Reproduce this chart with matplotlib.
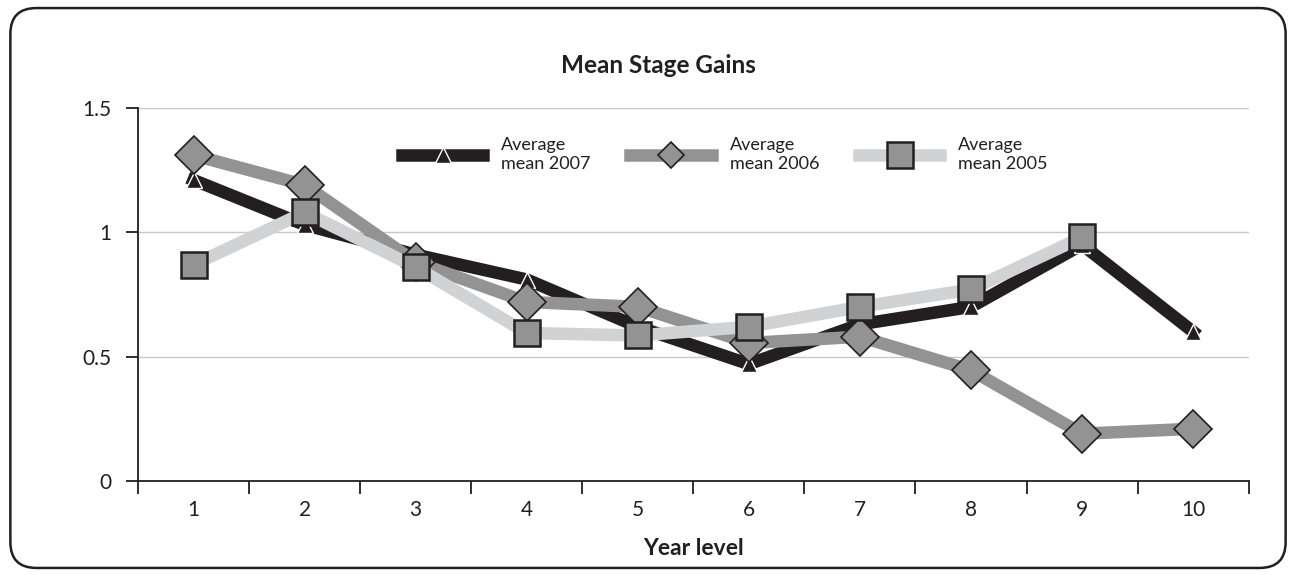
import numpy as np
from matplotlib import pyplot as plt
from matplotlib.patches import FancyBboxPatch

# year levels and the three yearly averages
years = [1, 2, 3, 4, 5, 6, 7, 8, 9, 10]
mean_2007 = [1.21, 1.03, 0.91, 0.81, 0.62, 0.47, 0.63, 0.70, 0.95, 0.60]
mean_2006 = [1.31, 1.19, 0.88, 0.72, 0.70, 0.555, 0.58, 0.445, 0.19, 0.21]
mean_2005 = [0.87, 1.08, 0.86, 0.595, 0.585, 0.62, 0.70, 0.77, 0.98]

plt.rcParams['font.family'] = ['Lato', 'DejaVu Sans']
dark = "#231f20"

fig = plt.figure(figsize=(12.96, 5.76), dpi=100)
ax = fig.add_axes([0.1065, 0.165, 0.857, 0.6476])

# rounded frame round the whole chart
frame = FancyBboxPatch((0.008, 0.014), 0.984, 0.972, boxstyle="round,pad=0,rounding_size=0.02",
                       transform=fig.transFigure, fill=False, edgecolor=dark, linewidth=1.8,
                       mutation_aspect=1296 / 576)
fig.patches.append(frame)

ax.plot(years, mean_2007, color=dark, linewidth=9, marker="^", markersize=11,
        markerfacecolor=dark, markeredgecolor="white", markeredgewidth=1,
        label="Average\nmean 2007", zorder=3)
ax.plot(years, mean_2006, color="#939393", linewidth=9, marker="D", markersize=19,
        markerfacecolor="#939393", markeredgecolor=dark, markeredgewidth=1.2,
        label="Average\nmean 2006", zorder=4)
ax.plot(years[:len(mean_2005)], mean_2005, color="#d1d2d4", linewidth=9, marker="s", markersize=19,
        markerfacecolor="#939393", markeredgecolor=dark, markeredgewidth=1.8,
        label="Average\nmean 2005", zorder=5)

ax.set_xlim(0.5, 10.5)
ax.set_ylim(0, 1.5)
ax.set_yticks([0, 0.5, 1, 1.5])
ax.set_yticklabels(["0", "0.5", "1", "1.5"])
ax.set_xticks(years)
ax.set_xticks(np.arange(0.5, 11, 1), minor=True)
ax.tick_params(axis="x", which="major", length=0, pad=14, labelsize=15, labelcolor=dark)
ax.tick_params(axis="x", which="minor", length=9, width=1.3, color=dark)
ax.tick_params(axis="y", length=9, width=1.3, color=dark, labelsize=15, labelcolor=dark, pad=10)
ax.grid(axis="y", color="#c8c8c8", linewidth=1)
ax.set_axisbelow(True)
for side in ["top", "right"]:
    ax.spines[side].set_visible(False)
for side in ["left", "bottom"]:
    ax.spines[side].set_color(dark)
    ax.spines[side].set_linewidth(1.3)

ax.set_xlabel("Year level", fontsize=16.5, fontweight="bold", labelpad=13, color=dark)
fig.text(0.508, 0.887, "Mean Stage Gains", ha="center", va="center", fontsize=17.5,
         fontweight="bold", color=dark)

leg = ax.legend(loc="upper left", bbox_to_anchor=(0.223, 0.965), ncol=3, frameon=False,
                prop={"size": 13}, labelcolor=dark,
                handlelength=4.5, handletextpad=1.0, columnspacing=2.2, labelspacing=0.15)
for handle, size in zip(leg.legend_handles, [12, 13, 19]):
    handle.set_markersize(size)

fig.savefig("out.png", dpi=100)
